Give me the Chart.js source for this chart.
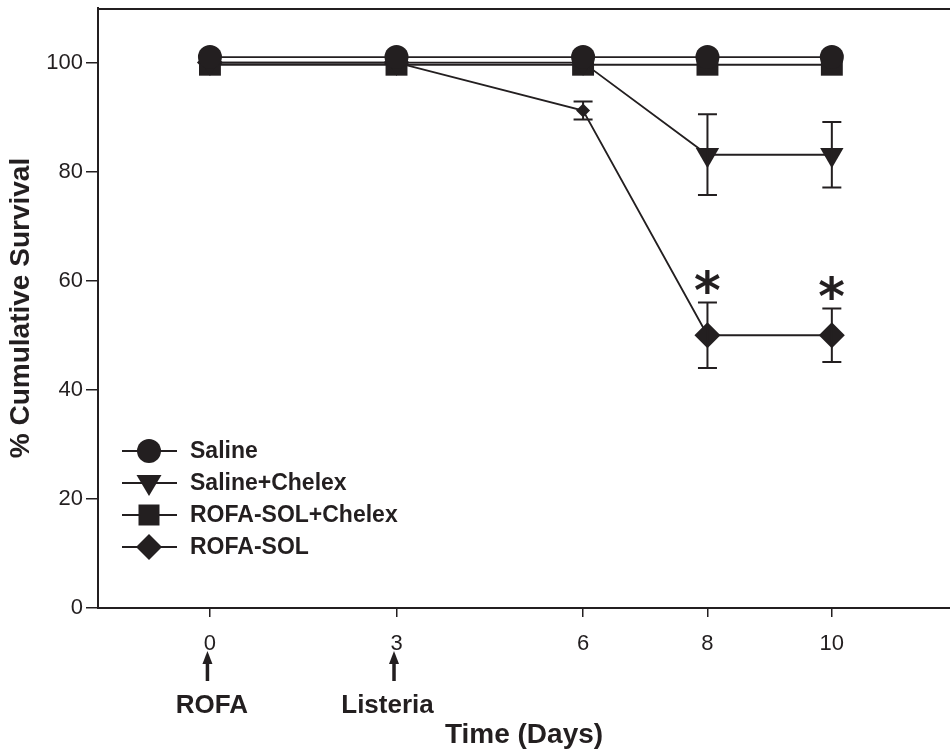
<!DOCTYPE html>
<html>
<head>
<meta charset="utf-8">
<script src="https://cdn.jsdelivr.net/npm/chart.js@4/dist/chart.umd.min.js"></script>
<style>
html,body{margin:0;padding:0;background:#fff;}
#wrap{width:950px;height:752px;}
</style>
</head>
<body>
<div id="wrap"><canvas id="c" width="950" height="752"></canvas></div>
<script>
// ---------- data ----------
const days = [0, 3, 6, 8, 10];
const xTickValues = [0, 3, 6, 8, 10];
const yTickValues = [0, 20, 40, 60, 80, 100];
const seriesNames = ['Saline', 'Saline+Chelex', 'ROFA-SOL+Chelex', 'ROFA-SOL'];
const saline = [101, 101, 101, 101, 101];
const salineErr = [0, 0, 0, 0, 0];
const salineChelex = [100, 100, 100, 83.1, 83.1];
const salineChelexErr = [0, 0, 0, 7.4, 6.0];
const rofaSolChelex = [99.6, 99.6, 99.6, 99.6, 99.6];
const rofaSolChelexErr = [0, 0, 0, 0, 0];
const rofaSol = [100, 100, 91.2, 50, 50];
const rofaSolErr = [0, 0, 1.65, 6.0, 4.9];
const significantDays = [8, 10];          // asterisks on ROFA-SOL
const eventDays = [0, 3];
const eventLabels = ['ROFA', 'Listeria'];
const xTitle = 'Time (Days)';
const yTitle = '% Cumulative Survival';

// ---------- style ----------
const INK = '#231f20';
const FONT = "'Liberation Sans', Arial, Helvetica, sans-serif";

function makeDataset(label, values, errors, style, radius, rotation) {
  return {
    label: label,
    data: days.map((d, i) => ({x: d, y: values[i]})),
    errors: errors,
    borderColor: INK,
    backgroundColor: INK,
    borderWidth: 1.8,
    pointStyle: style,
    pointRadius: radius,
    pointHoverRadius: radius,
    pointRotation: rotation || 0,
    pointBackgroundColor: INK,
    pointBorderColor: INK,
    pointBorderWidth: 0,
    tension: 0,
    fill: false,
    clip: false
  };
}

const datasets = [
  makeDataset(seriesNames[0], saline, salineErr, 'circle', 12, 0),
  makeDataset(seriesNames[1], salineChelex, salineChelexErr, 'triangle', 13.5, 180),
  makeDataset(seriesNames[2], rofaSolChelex, rofaSolChelexErr, 'rect', 15.5, 0),
  makeDataset(seriesNames[3], rofaSol, rofaSolErr, 'rectRot', [13, 13, 7, 13, 13], 0)
];

// error bars
const errorBarPlugin = {
  id: 'errorBars',
  afterDatasetsDraw(chart) {
    const ctx = chart.ctx;
    const xs = chart.scales.x, ys = chart.scales.y;
    ctx.save();
    ctx.strokeStyle = INK;
    ctx.lineWidth = 2;
    chart.data.datasets.forEach(ds => {
      ds.data.forEach((p, i) => {
        const e = ds.errors[i];
        if (!e) return;
        const px = xs.getPixelForValue(p.x);
        const top = ys.getPixelForValue(p.y + e);
        const bot = ys.getPixelForValue(p.y - e);
        ctx.beginPath();
        ctx.moveTo(px, top); ctx.lineTo(px, bot);
        ctx.moveTo(px - 9.5, top); ctx.lineTo(px + 9.5, top);
        ctx.moveTo(px - 9.5, bot); ctx.lineTo(px + 9.5, bot);
        ctx.stroke();
      });
    });
    ctx.restore();
  }
};

// top frame line
const frameTopPlugin = {
  id: 'frameTop',
  afterDraw(chart) {
    const a = chart.chartArea, ctx = chart.ctx;
    ctx.save();
    ctx.strokeStyle = INK; ctx.lineWidth = 2;
    ctx.beginPath(); ctx.moveTo(a.left - 1, a.top + 1); ctx.lineTo(a.right, a.top + 1); ctx.stroke();
    ctx.restore();
  }
};

// legend inside plot
function drawMarker(ctx, style, x, y) {
  ctx.beginPath();
  if (style === 'circle') {
    ctx.arc(x, y, 12, 0, Math.PI * 2);
  } else if (style === 'triangle') {
    ctx.moveTo(x - 12.5, y - 8); ctx.lineTo(x + 12.5, y - 8); ctx.lineTo(x, y + 13); ctx.closePath();
  } else if (style === 'rect') {
    ctx.rect(x - 10.5, y - 10.5, 21, 21);
  } else {
    ctx.moveTo(x, y - 13); ctx.lineTo(x + 13, y); ctx.lineTo(x, y + 13); ctx.lineTo(x - 13, y); ctx.closePath();
  }
  ctx.fill();
}
const legendPlugin = {
  id: 'insideLegend',
  afterDraw(chart) {
    const a = chart.chartArea, ctx = chart.ctx;
    ctx.save();
    ctx.strokeStyle = INK; ctx.fillStyle = INK; ctx.lineWidth = 1.8;
    ctx.font = 'bold 23px ' + FONT;
    ctx.textBaseline = 'middle'; ctx.textAlign = 'left';
    chart.data.datasets.forEach((ds, i) => {
      const y = a.top + 443 + 32 * i;
      ctx.beginPath(); ctx.moveTo(a.left + 24, y); ctx.lineTo(a.left + 79, y); ctx.stroke();
      drawMarker(ctx, ds.pointStyle, a.left + 51, y);
      ctx.fillText(ds.label, a.left + 92, y + 1);
    });
    ctx.restore();
  }
};

// asterisks for significance
const ASTER_FONT = "'DejaVu Sans', 'Liberation Sans', sans-serif";
const asteriskPlugin = {
  id: 'asterisks',
  afterDraw(chart) {
    const ctx = chart.ctx, xs = chart.scales.x, ys = chart.scales.y;
    ctx.save();
    ctx.fillStyle = INK;
    ctx.font = 'bold 100px ' + ASTER_FONT;
    const m0 = ctx.measureText('*');
    const h0 = m0.actualBoundingBoxAscent + m0.actualBoundingBoxDescent;
    const size = 100 * 24 / h0;
    ctx.font = 'bold ' + size + 'px ' + ASTER_FONT;
    ctx.textAlign = 'left'; ctx.textBaseline = 'alphabetic';
    const m = ctx.measureText('*');
    significantDays.forEach(d => {
      const i = days.indexOf(d);
      const cx = xs.getPixelForValue(d);
      const cy = ys.getPixelForValue(rofaSol[i] + rofaSolErr[i]) - 21;
      const gx = cx - (m.actualBoundingBoxRight - m.actualBoundingBoxLeft) / 2;
      const gy = cy + (m.actualBoundingBoxAscent - m.actualBoundingBoxDescent) / 2;
      ctx.fillText('*', gx, gy);
    });
    ctx.restore();
  }
};

// event arrows under the x axis
const eventPlugin = {
  id: 'events',
  afterDraw(chart) {
    const ctx = chart.ctx, xs = chart.scales.x, a = chart.chartArea;
    const dx = [2, -9];
    ctx.save();
    ctx.fillStyle = INK; ctx.strokeStyle = INK;
    eventDays.forEach((d, i) => {
      const x = xs.getPixelForValue(d) - 2.5;
      const b = a.bottom;
      ctx.beginPath();
      ctx.moveTo(x, b + 43); ctx.lineTo(x + 5, b + 56); ctx.lineTo(x - 5, b + 56); ctx.closePath();
      ctx.fill();
      ctx.lineWidth = 3.5;
      ctx.beginPath(); ctx.moveTo(x, b + 53); ctx.lineTo(x, b + 73); ctx.stroke();
      ctx.font = 'bold 26px ' + FONT;
      ctx.textAlign = 'center'; ctx.textBaseline = 'alphabetic';
      ctx.fillText(eventLabels[i], xs.getPixelForValue(d) + dx[i], b + 105);
    });
    ctx.restore();
  }
};

new Chart(document.getElementById('c'), {
  type: 'line',
  data: {datasets: datasets},
  plugins: [errorBarPlugin, frameTopPlugin, legendPlugin, asteriskPlugin, eventPlugin],
  options: {
    responsive: false,
    devicePixelRatio: 1,
    animation: false,
    layout: {autoPadding: false, padding: {top: 8, right: 0, left: 0, bottom: 0}},
    plugins: {legend: {display: false}, tooltip: {enabled: false}},
    scales: {
      x: {
        type: 'linear',
        min: -1.8,
        max: 11.9,
        afterBuildTicks: s => { s.ticks = xTickValues.map(v => ({value: v})); },
        afterFit: s => { s.height = 144; s.paddingLeft = 0; s.paddingRight = 0; },
        grid: {drawOnChartArea: false, drawTicks: true, tickLength: 9, color: INK, lineWidth: 1.5},
        border: {display: true, color: INK, width: 2},
        ticks: {font: {family: FONT, size: 22}, color: INK, padding: 14, maxRotation: 0, autoSkip: false},
        title: {display: true, text: xTitle, color: INK, font: {family: FONT, size: 28, weight: 'bold'}, padding: {top: 0, bottom: 0}}
      },
      y: {
        min: 0,
        max: 110,
        afterBuildTicks: s => { s.ticks = yTickValues.map(v => ({value: v})); },
        afterFit: s => { s.width = 98; s.paddingTop = 0; s.paddingBottom = 0; },
        grid: {drawOnChartArea: false, drawTicks: true, tickLength: 12, color: INK, lineWidth: 1.5},
        border: {display: true, color: INK, width: 2},
        ticks: {font: {family: FONT, size: 22}, color: INK, padding: 3, autoSkip: false},
        title: {display: true, text: yTitle, color: INK, font: {family: FONT, size: 28, weight: 'bold'}, padding: {top: 4, bottom: 0}}
      }
    }
  }
});
</script>
</body>
</html>
